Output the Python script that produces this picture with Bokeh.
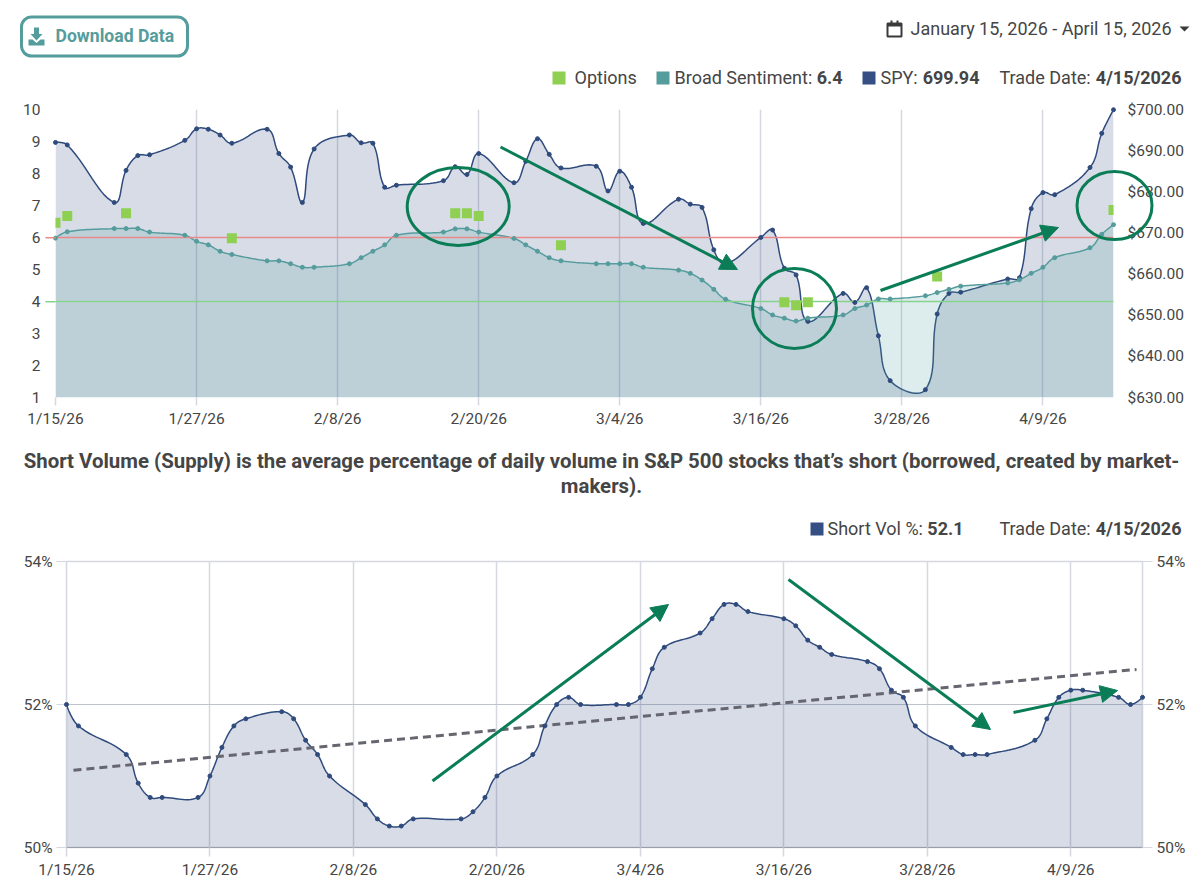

import numpy as np
import pandas as pd
from bokeh.plotting import figure
from bokeh.embed import file_html
from bokeh.resources import INLINE
from bokeh.core.properties import value
from bokeh.models import (Range1d, LinearAxis, FixedTicker, NumeralTickFormatter, PrintfTickFormatter, Arrow,
                          NormalHead, BoxAnnotation)

trade_dates = ["2026-01-15","2026-01-16","2026-01-20","2026-01-21","2026-01-22","2026-01-23",
 "2026-01-26","2026-01-27","2026-01-28","2026-01-29","2026-01-30",
 "2026-02-02","2026-02-03","2026-02-04","2026-02-05","2026-02-06",
 "2026-02-09","2026-02-10","2026-02-11","2026-02-12","2026-02-13",
 "2026-02-17","2026-02-18","2026-02-19","2026-02-20",
 "2026-02-23","2026-02-24","2026-02-25","2026-02-26","2026-02-27",
 "2026-03-02","2026-03-03","2026-03-04","2026-03-05","2026-03-06",
 "2026-03-09","2026-03-10","2026-03-11","2026-03-12","2026-03-13",
 "2026-03-16","2026-03-17","2026-03-18","2026-03-19","2026-03-20",
 "2026-03-23","2026-03-24","2026-03-25","2026-03-26","2026-03-27",
 "2026-03-30","2026-03-31","2026-04-01","2026-04-02",
 "2026-04-06","2026-04-07","2026-04-08","2026-04-09","2026-04-10",
 "2026-04-13","2026-04-14","2026-04-15"]

spy = [692.0,691.4,677.4,685.2,688.8,689.0,692.5,695.3,695.2,693.8,691.8,
 695.2,689.3,686.0,677.4,690.4,693.8,691.9,691.8,681.1,681.6,
 682.7,686.1,684.2,689.3,682.2,687.4,692.9,689.1,685.8,
 686.2,680.2,685.0,681.1,672.3,678.2,677.0,676.2,665.9,662.5,
 668.9,670.7,661.4,659.8,648.5,655.3,653.1,656.7,645.0,634.1,
 631.9,650.3,655.3,655.6,658.8,659.1,675.9,679.8,679.3,685.9,694.2,699.94]

sentiment = [5.98,6.18,6.28,6.28,6.28,6.17,6.07,5.88,5.77,5.57,5.47,
 5.27,5.27,5.18,5.07,5.07,5.18,5.37,5.57,5.77,6.07,
 6.17,6.27,6.27,6.17,5.97,5.77,5.57,5.37,5.27,
 5.18,5.18,5.18,5.18,5.07,4.98,4.88,4.67,4.38,4.07,
 3.78,3.58,3.48,3.39,3.48,3.58,3.78,3.89,4.08,4.08,
 4.18,4.28,4.38,4.48,4.58,4.68,4.88,5.07,5.37,5.68,6.1,6.4]

short_vol = [52.0,51.7,51.3,50.9,50.7,50.7,50.7,51.0,51.4,51.7,51.8,
 51.9,51.8,51.5,51.3,51.0,50.6,50.4,50.3,50.3,50.4,
 50.4,50.5,50.7,51.0,51.3,51.7,52.0,52.1,52.0,
 52.0,52.0,52.1,52.5,52.8,53.0,53.2,53.4,53.4,53.3,
 53.2,53.1,52.9,52.8,52.7,52.6,52.5,52.2,52.1,51.7,
 51.4,51.3,51.3,51.3,51.5,51.8,52.1,52.2,52.2,52.1,52.0,52.1]

option_dates = ["2026-01-15","2026-01-16","2026-01-21","2026-01-30","2026-02-18","2026-02-19",
 "2026-02-20","2026-02-27","2026-03-18","2026-03-19","2026-03-20","2026-03-31","2026-04-15"]
option_vals = [6.46,6.67,6.76,5.98,6.76,6.76,6.67,5.76,3.98,3.88,3.98,4.78,6.86]

tick_dates = ["2026-01-15","2026-01-27","2026-02-08","2026-02-20","2026-03-04","2026-03-16","2026-03-28","2026-04-09"]
tick_labels = ["1/15/26","1/27/26","2/8/26","2/20/26","3/4/26","3/16/26","3/28/26","4/9/26"]

trend_dates = ["2026-01-15 14:00","2026-04-14 12:00"]
trend_vals = [51.08,52.49]

FONT = "Roboto"
TXT = "#454545"
GRID = "#d5d8e0"
NAVY = "#2f4a7c"
NAVY_F = "#354f85"
TEAL = "#559c9c"
LIME = "#8fd053"
GREEN = "#0a7d57"
RED_L = "#e98a8a"
GREEN_L = "#86d38e"

def days(d):
    return ((pd.to_datetime(pd.Series(d)) - pd.Timestamp("2026-01-15")) / pd.Timedelta(days=1)).values

x_days = days(trade_dates)
opt_days = days(option_dates)
tick_days = days(tick_dates)
trend_days = days(trend_dates)

def smooth(x, y, sx, sy, tension=0.4, n=14):
    """Chart-style spline drawn through the points (sx, sy: px per unit)."""
    px, py = np.asarray(x) * sx, np.asarray(y, float) * sy
    m = len(px)
    ox, oy = [], []
    def ctrl(i):
        if i == 0 or i == m - 1:
            return (px[i], py[i]), (px[i], py[i])
        d01 = np.hypot(px[i]-px[i-1], py[i]-py[i-1])
        d12 = np.hypot(px[i+1]-px[i], py[i+1]-py[i])
        s = d01 + d12
        fa, fb = tension*d01/s, tension*d12/s
        dx, dy = px[i+1]-px[i-1], py[i+1]-py[i-1]
        return (px[i]-fa*dx, py[i]-fa*dy), (px[i]+fb*dx, py[i]+fb*dy)
    for i in range(m-1):
        _, c1 = ctrl(i)
        c2, _ = ctrl(i+1)
        t = np.linspace(0, 1, n, endpoint=i == m-2)
        ox.extend((1-t)**3*px[i] + 3*(1-t)**2*t*c1[0] + 3*(1-t)*t**2*c2[0] + t**3*px[i+1])
        oy.extend((1-t)**3*py[i] + 3*(1-t)**2*t*c1[1] + 3*(1-t)*t**2*c2[1] + t**3*py[i+1])
    return np.array(ox)/sx, np.array(oy)/sy

def place(top, left):
    return {"position": "absolute", "top": f"{top}px", "left": f"{left}px"}

# ---------- top chart
W1, H1 = 1058, 288
p1 = figure(width=1200, height=430, output_backend="svg", styles=place(0, 0),
            toolbar_location=None, x_range=Range1d(0, 90), y_range=Range1d(1, 10),
            min_border_left=55, min_border_right=87, min_border_top=109, min_border_bottom=33)
p1.outline_line_color = None
p1.extra_y_ranges = {"spy": Range1d(630, 700)}
spy_axis = LinearAxis(y_range_name="spy", ticker=FixedTicker(ticks=list(range(630, 701, 10))),
                      formatter=NumeralTickFormatter(format="$0.00"))
p1.add_layout(spy_axis, "right")

s1x, s1y = W1/90, H1/70
sx, sy = smooth(x_days, spy, s1x, s1y)
p1.varea(sx, y1=630, y2=sy, y_range_name="spy", fill_color=NAVY_F, fill_alpha=0.2)
p1.line(sx, sy, y_range_name="spy", line_color=NAVY, line_width=1.5)
p1.scatter(x_days, spy, y_range_name="spy", size=4, color=NAVY, level="overlay")

tx, ty = smooth(x_days, sentiment, s1x, H1/9)
p1.varea(tx, y1=1, y2=ty, fill_color="#53a0a0", fill_alpha=0.2)
p1.line(tx, ty, line_color=TEAL, line_width=1.5)
p1.scatter(x_days, sentiment, size=4, color=TEAL, level="overlay")
p1.line([0, 90], [6, 6], line_color=RED_L, line_width=1.5)
p1.line([0, 90], [4, 4], line_color=GREEN_L, line_width=1.5)
p1.scatter(opt_days, option_vals, marker="square", size=10, color=LIME, line_width=0)

# ---------- bottom chart
W2, H2 = 1076, 286
p2 = figure(width=1200, height=453, output_backend="svg", styles=place(428, 0),
            toolbar_location=None, x_range=Range1d(0, 90), y_range=Range1d(50, 54),
            min_border_left=66, min_border_right=58, min_border_top=133, min_border_bottom=34)
p2.outline_line_color = GRID
p2.outline_line_width = 1.5
p2.background_fill_alpha = 0
p2.border_fill_alpha = 0
pct = PrintfTickFormatter(format="%d%%")
p2.add_layout(LinearAxis(ticker=FixedTicker(ticks=[50, 52, 54]), formatter=pct), "right")
qx, qy = smooth(x_days, short_vol, W2/90, H2/4)
p2.varea(qx, y1=50, y2=qy, fill_color=NAVY_F, fill_alpha=0.2)
p2.line(qx, qy, line_color=NAVY, line_width=1.5)
p2.scatter(x_days, short_vol, size=4, color=NAVY, level="overlay")
p2.line(trend_days, trend_vals, line_color="#666670", line_width=3, line_dash="8 5")

# ---------- axes
for p in (p1, p2):
    xa = p.xaxis[0]
    xa.ticker = FixedTicker(ticks=list(tick_days))
    xa.major_label_overrides = {float(d): l for d, l in zip(tick_days, tick_labels)}
    xa.axis_line_color = None
    xa.major_tick_in = 0
    xa.major_tick_line_color = GRID
    xa.major_tick_line_width = 1.5
    xa.minor_tick_line_color = None
    xa.major_label_text_font = FONT
    xa.major_label_text_font_size = "15.5px"
    xa.major_label_text_color = TXT
    p.xgrid.ticker = FixedTicker(ticks=list(tick_days))
    p.xgrid.grid_line_color = GRID
    p.xgrid.grid_line_width = 1.5
    for a in p.yaxis:
        a.axis_line_color = None
        a.minor_tick_line_color = None
        a.major_tick_in = 0
        a.major_label_text_font = FONT
        a.major_label_text_font_size = "15.5px"
        a.major_label_text_color = TXT

p1.xaxis[0].major_tick_out = 8
p1.xaxis[0].major_label_standoff = 4
p1.ygrid.grid_line_color = None
p1.yaxis[0].ticker = FixedTicker(ticks=list(range(1, 11)))
for a in p1.yaxis:
    a.major_tick_line_color = None
    a.major_tick_out = 0
p1.yaxis[0].major_label_standoff = 15
p1.yaxis[1].major_label_standoff = 14

p2.xaxis[0].major_tick_out = 9
p2.xaxis[0].major_label_standoff = 4
p2.xaxis[0].axis_line_color = "#9a9ea8"
p2.ygrid.ticker = FixedTicker(ticks=[50, 52, 54])
p2.ygrid.grid_line_color = "#bfc3cc"
p2.yaxis[0].ticker = FixedTicker(ticks=[50, 52, 54])
p2.yaxis[0].formatter = pct
for a in p2.yaxis:
    a.major_tick_line_color = GRID
    a.major_tick_out = 10
    a.major_label_standoff = 4

# ---------- transparent page overlay for the header, legends, notes and drawn-on arrows
ov = figure(width=1200, height=881, output_backend="svg", styles=place(0, 0), toolbar_location=None,
            x_range=Range1d(0, 1200), y_range=Range1d(881, 0),
            min_border_left=0, min_border_right=0, min_border_top=0, min_border_bottom=0,
            x_axis_location=None, y_axis_location=None)
ov.background_fill_color = None
ov.border_fill_color = None
ov.outline_line_color = None
ov.grid.visible = False

def text(x, y, s, size=18, bold=False, align="left", color=TXT):
    ov.text([x], [y], text=[s], text_font=value(FONT), text_font_size=f"{size}px",
            text_font_style="bold" if bold else "normal", text_color=color,
            text_align=align, text_baseline="middle")

def swatch(l, r, t, b, color):
    ov.quad(left=[l], right=[r], top=[t], bottom=[b], fill_color=color, line_color=None)

def poly(pts, fill):
    ov.patch([a for a, _ in pts], [b for _, b in pts], fill_color=fill, line_color=None)

def oval(cx, cy, w, h):
    ov.ellipse([cx], [cy], width=[w], height=[h], fill_color=None, line_color=GREEN, line_width=3)

def arrow(x0, y0, x1, y1):
    ov.add_layout(Arrow(x_start=x0, y_start=y0, x_end=x1, y_end=y1, line_color=GREEN, line_width=3,
                        end=NormalHead(size=17, fill_color=GREEN, line_color=GREEN, line_width=1)))

# stubs of the two reference lines, left of the frame
ov.line([45, 55], [237.3, 237.3], line_color=RED_L, line_width=1.5)
ov.line([45, 55], [301.3, 301.3], line_color=GREEN_L, line_width=1.5)

# header
ov.add_layout(BoxAnnotation(left=21, right=187, top=16.5, bottom=55.5, border_radius=10,
                            fill_alpha=0, line_color=TEAL, line_alpha=1, line_width=3))
poly([(33.5,27),(38.5,27),(38.5,33.5),(42,33.5),(36,40),(30,33.5),(33.5,33.5)], TEAL)
poly([(28,39),(32,39),(36,42.5),(40,39),(44,39),(44,45),(28,45)], TEAL)
text(55, 35.5, "Download Data", size=17.6, bold=True, color=TEAL)

ov.quad(left=[887], right=[901], top=[23], bottom=[36], fill_color=None, line_color="#3a3a3a", line_width=2)
swatch(887, 901, 23, 26, "#3a3a3a")
swatch(890, 892, 20, 24, "#3a3a3a")
swatch(896, 898, 20, 24, "#3a3a3a")
text(910, 27.5, "January 15, 2026 - April 15, 2026", size=18)
poly([(1179,26),(1189,26),(1184,31)], "#3a3a3a")

swatch(552, 565, 71, 84, LIME)
text(574, 77, "Options")
swatch(656, 669, 71, 84, TEAL)
text(674, 77, "Broad Sentiment:")
text(842, 77, "6.4", bold=True, align="right")
swatch(862, 875, 71, 84, NAVY_F)
text(880, 77, "SPY:")
text(979, 77, "699.94", bold=True, align="right")
text(999, 77, "Trade Date:")
text(1181, 77, "4/15/2026", bold=True, align="right")

# annotations on top chart
oval(457.7, 206, 102, 78)
oval(794, 308, 84, 80)
oval(1114, 205, 75, 68)
arrow(500, 146.5, 737, 269)
arrow(880, 290, 1058, 227)

# between the charts
text(601, 460, "Short Volume (Supply) is the average percentage of daily volume in S&P 500 stocks that\u2019s short (borrowed, created by market-",
     size=20.4, bold=True, align="center")
text(601, 485, "makers).", size=20.4, bold=True, align="center")
swatch(810, 823, 522, 535, NAVY_F)
text(827, 527.5, "Short Vol %:")
text(963, 527.5, "52.1", bold=True, align="right")
text(999, 527.5, "Trade Date:")
text(1181, 527.5, "4/15/2026", bold=True, align="right")

# annotations on bottom chart
arrow(432, 780.5, 668, 604)
arrow(788, 579, 990, 729)
arrow(1013, 712, 1117, 690)

open("out.html", "w").write(file_html([p1, p2, ov], INLINE))
